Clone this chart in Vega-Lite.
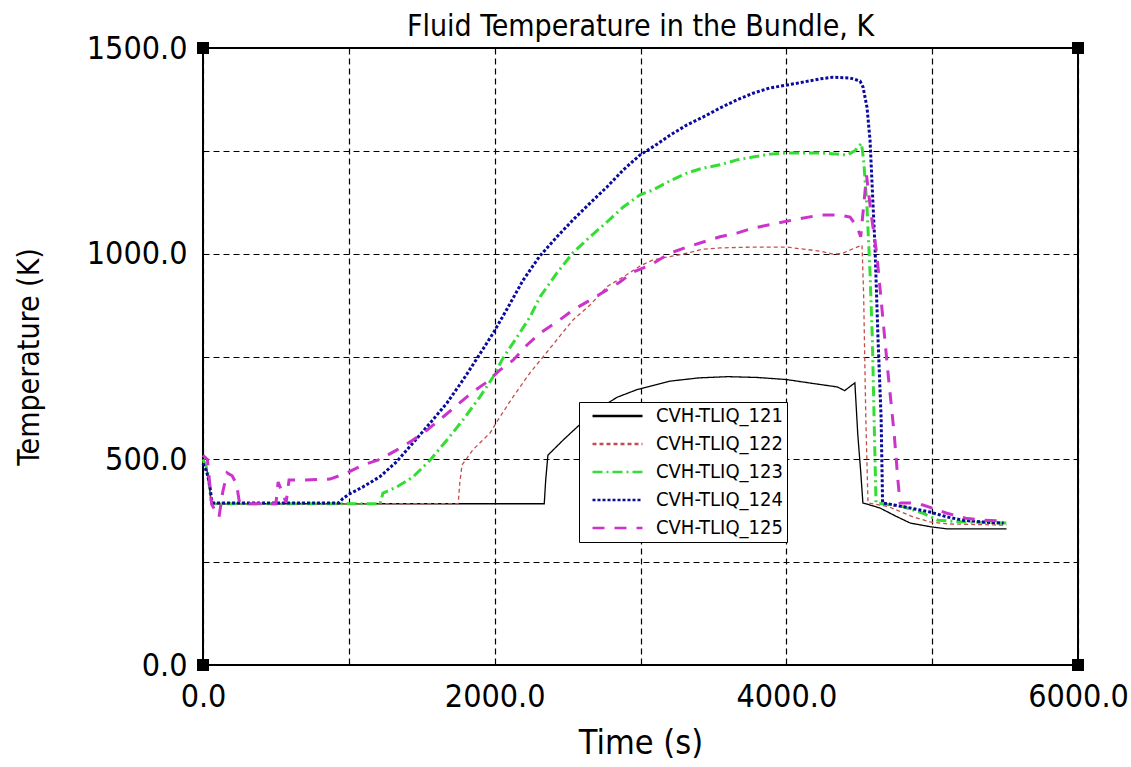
{
"$schema":"https://vega.github.io/schema/vega-lite/v6.json",
"width":875,"height":617,
"autosize":{"type":"none"},
"padding":{"left":203,"top":48,"right":53,"bottom":102},
"background":"white",
"config":{"view":{"stroke":"black","strokeWidth":2},"font":"DejaVu Sans Condensed"},
"title":{"text":"Fluid Temperature in the Bundle, K","font":"DejaVu Sans Condensed","fontSize":30,"fontWeight":"normal","color":"black","anchor":"middle","offset":-10},
"layer":[
{"data":{"values":[
{"s":"CVH-TLIQ_121","t":0,"T":490},{"s":"CVH-TLIQ_121","t":25,"T":480},{"s":"CVH-TLIQ_121","t":45,"T":430},{"s":"CVH-TLIQ_121","t":55,"T":395},{"s":"CVH-TLIQ_121","t":70,"T":392},{"s":"CVH-TLIQ_121","t":2340,"T":392},{"s":"CVH-TLIQ_121","t":2350,"T":450},{"s":"CVH-TLIQ_121","t":2365,"T":510},{"s":"CVH-TLIQ_121","t":2470,"T":547},{"s":"CVH-TLIQ_121","t":2570,"T":580},{"s":"CVH-TLIQ_121","t":2700,"T":620},{"s":"CVH-TLIQ_121","t":2840,"T":651},{"s":"CVH-TLIQ_121","t":2980,"T":670},{"s":"CVH-TLIQ_121","t":3200,"T":690},{"s":"CVH-TLIQ_121","t":3400,"T":698},{"s":"CVH-TLIQ_121","t":3600,"T":701},{"s":"CVH-TLIQ_121","t":3800,"T":699},{"s":"CVH-TLIQ_121","t":4000,"T":694},{"s":"CVH-TLIQ_121","t":4230,"T":682},{"s":"CVH-TLIQ_121","t":4350,"T":676},{"s":"CVH-TLIQ_121","t":4400,"T":667},{"s":"CVH-TLIQ_121","t":4470,"T":686},{"s":"CVH-TLIQ_121","t":4490,"T":560},{"s":"CVH-TLIQ_121","t":4510,"T":470},{"s":"CVH-TLIQ_121","t":4525,"T":394},{"s":"CVH-TLIQ_121","t":4640,"T":382},{"s":"CVH-TLIQ_121","t":4750,"T":362},{"s":"CVH-TLIQ_121","t":4850,"T":345},{"s":"CVH-TLIQ_121","t":4990,"T":336},{"s":"CVH-TLIQ_121","t":5100,"T":331},{"s":"CVH-TLIQ_121","t":5510,"T":331},
{"s":"CVH-TLIQ_122","t":0,"T":495},{"s":"CVH-TLIQ_122","t":30,"T":470},{"s":"CVH-TLIQ_122","t":50,"T":420},{"s":"CVH-TLIQ_122","t":60,"T":392},{"s":"CVH-TLIQ_122","t":1750,"T":392},{"s":"CVH-TLIQ_122","t":1760,"T":440},{"s":"CVH-TLIQ_122","t":1776,"T":486},{"s":"CVH-TLIQ_122","t":1850,"T":523},{"s":"CVH-TLIQ_122","t":1968,"T":564},{"s":"CVH-TLIQ_122","t":2036,"T":603},{"s":"CVH-TLIQ_122","t":2126,"T":652},{"s":"CVH-TLIQ_122","t":2242,"T":710},{"s":"CVH-TLIQ_122","t":2359,"T":761},{"s":"CVH-TLIQ_122","t":2537,"T":839},{"s":"CVH-TLIQ_122","t":2654,"T":875},{"s":"CVH-TLIQ_122","t":2770,"T":920},{"s":"CVH-TLIQ_122","t":2880,"T":943},{"s":"CVH-TLIQ_122","t":2997,"T":970},{"s":"CVH-TLIQ_122","t":3086,"T":985},{"s":"CVH-TLIQ_122","t":3202,"T":993},{"s":"CVH-TLIQ_122","t":3319,"T":1001},{"s":"CVH-TLIQ_122","t":3428,"T":1011},{"s":"CVH-TLIQ_122","t":3545,"T":1014},{"s":"CVH-TLIQ_122","t":3771,"T":1016},{"s":"CVH-TLIQ_122","t":4005,"T":1016},{"s":"CVH-TLIQ_122","t":4231,"T":1006},{"s":"CVH-TLIQ_122","t":4320,"T":999},{"s":"CVH-TLIQ_122","t":4380,"T":1000},{"s":"CVH-TLIQ_122","t":4457,"T":1012},{"s":"CVH-TLIQ_122","t":4519,"T":1021},{"s":"CVH-TLIQ_122","t":4530,"T":900},{"s":"CVH-TLIQ_122","t":4545,"T":600},{"s":"CVH-TLIQ_122","t":4560,"T":394},{"s":"CVH-TLIQ_122","t":4700,"T":385},{"s":"CVH-TLIQ_122","t":4869,"T":360},{"s":"CVH-TLIQ_122","t":4985,"T":348},{"s":"CVH-TLIQ_122","t":5100,"T":343},{"s":"CVH-TLIQ_122","t":5510,"T":340},
{"s":"CVH-TLIQ_123","t":0,"T":500},{"s":"CVH-TLIQ_123","t":30,"T":475},{"s":"CVH-TLIQ_123","t":55,"T":400},{"s":"CVH-TLIQ_123","t":65,"T":392},{"s":"CVH-TLIQ_123","t":1214,"T":392},{"s":"CVH-TLIQ_123","t":1234,"T":418},{"s":"CVH-TLIQ_123","t":1330,"T":433},{"s":"CVH-TLIQ_123","t":1440,"T":457},{"s":"CVH-TLIQ_123","t":1557,"T":498},{"s":"CVH-TLIQ_123","t":1673,"T":547},{"s":"CVH-TLIQ_123","t":1783,"T":596},{"s":"CVH-TLIQ_123","t":1899,"T":652},{"s":"CVH-TLIQ_123","t":1989,"T":700},{"s":"CVH-TLIQ_123","t":2057,"T":746},{"s":"CVH-TLIQ_123","t":2153,"T":797},{"s":"CVH-TLIQ_123","t":2242,"T":846},{"s":"CVH-TLIQ_123","t":2311,"T":895},{"s":"CVH-TLIQ_123","t":2427,"T":953},{"s":"CVH-TLIQ_123","t":2537,"T":1002},{"s":"CVH-TLIQ_123","t":2654,"T":1041},{"s":"CVH-TLIQ_123","t":2770,"T":1077},{"s":"CVH-TLIQ_123","t":2880,"T":1113},{"s":"CVH-TLIQ_123","t":2997,"T":1143},{"s":"CVH-TLIQ_123","t":3086,"T":1155},{"s":"CVH-TLIQ_123","t":3202,"T":1177},{"s":"CVH-TLIQ_123","t":3319,"T":1196},{"s":"CVH-TLIQ_123","t":3428,"T":1208},{"s":"CVH-TLIQ_123","t":3545,"T":1216},{"s":"CVH-TLIQ_123","t":3662,"T":1228},{"s":"CVH-TLIQ_123","t":3771,"T":1235},{"s":"CVH-TLIQ_123","t":3888,"T":1242},{"s":"CVH-TLIQ_123","t":4005,"T":1245},{"s":"CVH-TLIQ_123","t":4231,"T":1245},{"s":"CVH-TLIQ_123","t":4416,"T":1240},{"s":"CVH-TLIQ_123","t":4470,"T":1250},{"s":"CVH-TLIQ_123","t":4515,"T":1268},{"s":"CVH-TLIQ_123","t":4530,"T":1228},{"s":"CVH-TLIQ_123","t":4553,"T":1113},{"s":"CVH-TLIQ_123","t":4574,"T":953},{"s":"CVH-TLIQ_123","t":4590,"T":790},{"s":"CVH-TLIQ_123","t":4605,"T":550},{"s":"CVH-TLIQ_123","t":4615,"T":394},{"s":"CVH-TLIQ_123","t":4800,"T":385},{"s":"CVH-TLIQ_123","t":4937,"T":369},{"s":"CVH-TLIQ_123","t":5040,"T":352},{"s":"CVH-TLIQ_123","t":5200,"T":348},{"s":"CVH-TLIQ_123","t":5510,"T":345},
{"s":"CVH-TLIQ_124","t":0,"T":490},{"s":"CVH-TLIQ_124","t":25,"T":470},{"s":"CVH-TLIQ_124","t":45,"T":440},{"s":"CVH-TLIQ_124","t":60,"T":400},{"s":"CVH-TLIQ_124","t":70,"T":394},{"s":"CVH-TLIQ_124","t":930,"T":394},{"s":"CVH-TLIQ_124","t":960,"T":405},{"s":"CVH-TLIQ_124","t":1000,"T":415},{"s":"CVH-TLIQ_124","t":1097,"T":433},{"s":"CVH-TLIQ_124","t":1214,"T":458},{"s":"CVH-TLIQ_124","t":1330,"T":495},{"s":"CVH-TLIQ_124","t":1440,"T":540},{"s":"CVH-TLIQ_124","t":1557,"T":588},{"s":"CVH-TLIQ_124","t":1673,"T":637},{"s":"CVH-TLIQ_124","t":1783,"T":693},{"s":"CVH-TLIQ_124","t":1851,"T":730},{"s":"CVH-TLIQ_124","t":1920,"T":768},{"s":"CVH-TLIQ_124","t":1995,"T":810},{"s":"CVH-TLIQ_124","t":2084,"T":865},{"s":"CVH-TLIQ_124","t":2194,"T":935},{"s":"CVH-TLIQ_124","t":2311,"T":995},{"s":"CVH-TLIQ_124","t":2427,"T":1041},{"s":"CVH-TLIQ_124","t":2537,"T":1082},{"s":"CVH-TLIQ_124","t":2654,"T":1123},{"s":"CVH-TLIQ_124","t":2770,"T":1162},{"s":"CVH-TLIQ_124","t":2880,"T":1203},{"s":"CVH-TLIQ_124","t":2997,"T":1240},{"s":"CVH-TLIQ_124","t":3113,"T":1266},{"s":"CVH-TLIQ_124","t":3202,"T":1288},{"s":"CVH-TLIQ_124","t":3319,"T":1313},{"s":"CVH-TLIQ_124","t":3428,"T":1332},{"s":"CVH-TLIQ_124","t":3545,"T":1354},{"s":"CVH-TLIQ_124","t":3662,"T":1374},{"s":"CVH-TLIQ_124","t":3771,"T":1390},{"s":"CVH-TLIQ_124","t":3888,"T":1403},{"s":"CVH-TLIQ_124","t":4005,"T":1410},{"s":"CVH-TLIQ_124","t":4114,"T":1417},{"s":"CVH-TLIQ_124","t":4231,"T":1425},{"s":"CVH-TLIQ_124","t":4320,"T":1429},{"s":"CVH-TLIQ_124","t":4437,"T":1427},{"s":"CVH-TLIQ_124","t":4505,"T":1420},{"s":"CVH-TLIQ_124","t":4526,"T":1405},{"s":"CVH-TLIQ_124","t":4553,"T":1356},{"s":"CVH-TLIQ_124","t":4574,"T":1276},{"s":"CVH-TLIQ_124","t":4608,"T":1016},{"s":"CVH-TLIQ_124","t":4629,"T":790},{"s":"CVH-TLIQ_124","t":4650,"T":600},{"s":"CVH-TLIQ_124","t":4660,"T":394},{"s":"CVH-TLIQ_124","t":4800,"T":385},{"s":"CVH-TLIQ_124","t":4985,"T":372},{"s":"CVH-TLIQ_124","t":5101,"T":360},{"s":"CVH-TLIQ_124","t":5211,"T":352},{"s":"CVH-TLIQ_124","t":5328,"T":348},{"s":"CVH-TLIQ_124","t":5490,"T":345},
{"s":"CVH-TLIQ_125","t":0,"T":510},{"s":"CVH-TLIQ_125","t":30,"T":500},{"s":"CVH-TLIQ_125","t":60,"T":390},{"s":"CVH-TLIQ_125","t":110,"T":360},{"s":"CVH-TLIQ_125","t":135,"T":420},{"s":"CVH-TLIQ_125","t":165,"T":467},{"s":"CVH-TLIQ_125","t":200,"T":460},{"s":"CVH-TLIQ_125","t":230,"T":440},{"s":"CVH-TLIQ_125","t":250,"T":395},{"s":"CVH-TLIQ_125","t":270,"T":392},{"s":"CVH-TLIQ_125","t":500,"T":392},{"s":"CVH-TLIQ_125","t":515,"T":445},{"s":"CVH-TLIQ_125","t":570,"T":395},{"s":"CVH-TLIQ_125","t":590,"T":450},{"s":"CVH-TLIQ_125","t":700,"T":450},{"s":"CVH-TLIQ_125","t":871,"T":452},{"s":"CVH-TLIQ_125","t":987,"T":467},{"s":"CVH-TLIQ_125","t":1097,"T":486},{"s":"CVH-TLIQ_125","t":1214,"T":500},{"s":"CVH-TLIQ_125","t":1330,"T":523},{"s":"CVH-TLIQ_125","t":1440,"T":547},{"s":"CVH-TLIQ_125","t":1536,"T":571},{"s":"CVH-TLIQ_125","t":1646,"T":603},{"s":"CVH-TLIQ_125","t":1742,"T":632},{"s":"CVH-TLIQ_125","t":1851,"T":664},{"s":"CVH-TLIQ_125","t":1947,"T":688},{"s":"CVH-TLIQ_125","t":2036,"T":717},{"s":"CVH-TLIQ_125","t":2126,"T":741},{"s":"CVH-TLIQ_125","t":2222,"T":778},{"s":"CVH-TLIQ_125","t":2311,"T":807},{"s":"CVH-TLIQ_125","t":2427,"T":834},{"s":"CVH-TLIQ_125","t":2537,"T":863},{"s":"CVH-TLIQ_125","t":2654,"T":887},{"s":"CVH-TLIQ_125","t":2770,"T":912},{"s":"CVH-TLIQ_125","t":2859,"T":931},{"s":"CVH-TLIQ_125","t":2948,"T":955},{"s":"CVH-TLIQ_125","t":3065,"T":972},{"s":"CVH-TLIQ_125","t":3202,"T":1001},{"s":"CVH-TLIQ_125","t":3319,"T":1016},{"s":"CVH-TLIQ_125","t":3408,"T":1026},{"s":"CVH-TLIQ_125","t":3545,"T":1041},{"s":"CVH-TLIQ_125","t":3662,"T":1050},{"s":"CVH-TLIQ_125","t":3771,"T":1062},{"s":"CVH-TLIQ_125","t":3936,"T":1074},{"s":"CVH-TLIQ_125","t":4046,"T":1082},{"s":"CVH-TLIQ_125","t":4231,"T":1094},{"s":"CVH-TLIQ_125","t":4368,"T":1094},{"s":"CVH-TLIQ_125","t":4437,"T":1089},{"s":"CVH-TLIQ_125","t":4485,"T":1065},{"s":"CVH-TLIQ_125","t":4510,"T":1041},{"s":"CVH-TLIQ_125","t":4550,"T":1190},{"s":"CVH-TLIQ_125","t":4580,"T":1100},{"s":"CVH-TLIQ_125","t":4620,"T":1000},{"s":"CVH-TLIQ_125","t":4660,"T":850},{"s":"CVH-TLIQ_125","t":4700,"T":700},{"s":"CVH-TLIQ_125","t":4740,"T":560},{"s":"CVH-TLIQ_125","t":4765,"T":450},{"s":"CVH-TLIQ_125","t":4780,"T":394},{"s":"CVH-TLIQ_125","t":4850,"T":394},{"s":"CVH-TLIQ_125","t":4937,"T":389},{"s":"CVH-TLIQ_125","t":5101,"T":369},{"s":"CVH-TLIQ_125","t":5230,"T":357},{"s":"CVH-TLIQ_125","t":5350,"T":352},{"s":"CVH-TLIQ_125","t":5490,"T":350}
]},
"mark":{"type":"line","interpolate":"linear"},
"encoding":{
"x":{"field":"t","type":"quantitative","scale":{"domain":[0,6000],"nice":false,"zero":false},
 "axis":{"values":[0,1000,2000,3000,4000,5000,6000],"labelExpr":"datum.value % 2000 == 0 ? format(datum.value, '.1f') : ''","title":"Time (s)","titleFont":"DejaVu Sans Condensed","titleFontSize":34,"titleFontWeight":"normal","titleColor":"black","titlePadding":14,"labelFont":"DejaVu Sans Condensed","labelFontSize":32,"labelColor":"black","labelPadding":16,"ticks":false,"domain":false,"grid":true,"gridColor":"black","gridDash":[6,4],"gridWidth":1.2,"gridOpacity":1,"labelFlush":false,"labelOverlap":false}},
"y":{"field":"T","type":"quantitative","scale":{"domain":[0,1500],"nice":false,"zero":false},
 "axis":{"values":[0,250,500,750,1000,1250,1500],"labelExpr":"datum.value % 500 == 0 ? format(datum.value, '.1f') : ''","title":"Temperature (K)","titleFont":"DejaVu Sans Condensed","titleFontSize":30,"titleFontWeight":"normal","titleColor":"black","titlePadding":42,"labelFont":"DejaVu Sans Condensed","labelFontSize":32,"labelColor":"black","labelPadding":16,"ticks":false,"domain":false,"grid":true,"gridColor":"black","gridDash":[6,4],"gridWidth":1.2,"gridOpacity":1,"labelFlush":false,"labelOverlap":false}},
"color":{"field":"s","type":"nominal","scale":{"domain":["CVH-TLIQ_121","CVH-TLIQ_122","CVH-TLIQ_123","CVH-TLIQ_124","CVH-TLIQ_125"],"range":["#000000","#c0504d","#33dd33","#0a0a9c","#cc33cc"]},
 "legend":{"orient":"none","legendX":376,"legendY":354,"title":null,"fillColor":"white","strokeColor":"black","padding":4,"symbolType":"stroke","symbolSize":2500,"symbolStrokeWidth":2.5,"symbolOffset":8,"labelOffset":12,"labelFont":"DejaVu Sans Condensed","labelFontSize":20,"labelColor":"black","clipHeight":20,"rowPadding":8}},
"strokeDash":{"field":"s","type":"nominal","scale":{"domain":["CVH-TLIQ_121","CVH-TLIQ_122","CVH-TLIQ_123","CVH-TLIQ_124","CVH-TLIQ_125"],"range":[[1,0],[4,3],[10,4,2,4],[3,2],[12,10]]},"legend":null},
"strokeWidth":{"condition":{"test":"datum.s == 'CVH-TLIQ_121' || datum.s == 'CVH-TLIQ_122'","value":1.3},"value":3}
}},
{"data":{"values":[{"t":0,"T":0},{"t":6000,"T":0},{"t":0,"T":1500},{"t":6000,"T":1500}]},
"mark":{"type":"point","shape":"square","filled":true,"color":"black","size":144,"opacity":1},
"encoding":{"x":{"field":"t","type":"quantitative"},"y":{"field":"T","type":"quantitative"}}}
]
}
